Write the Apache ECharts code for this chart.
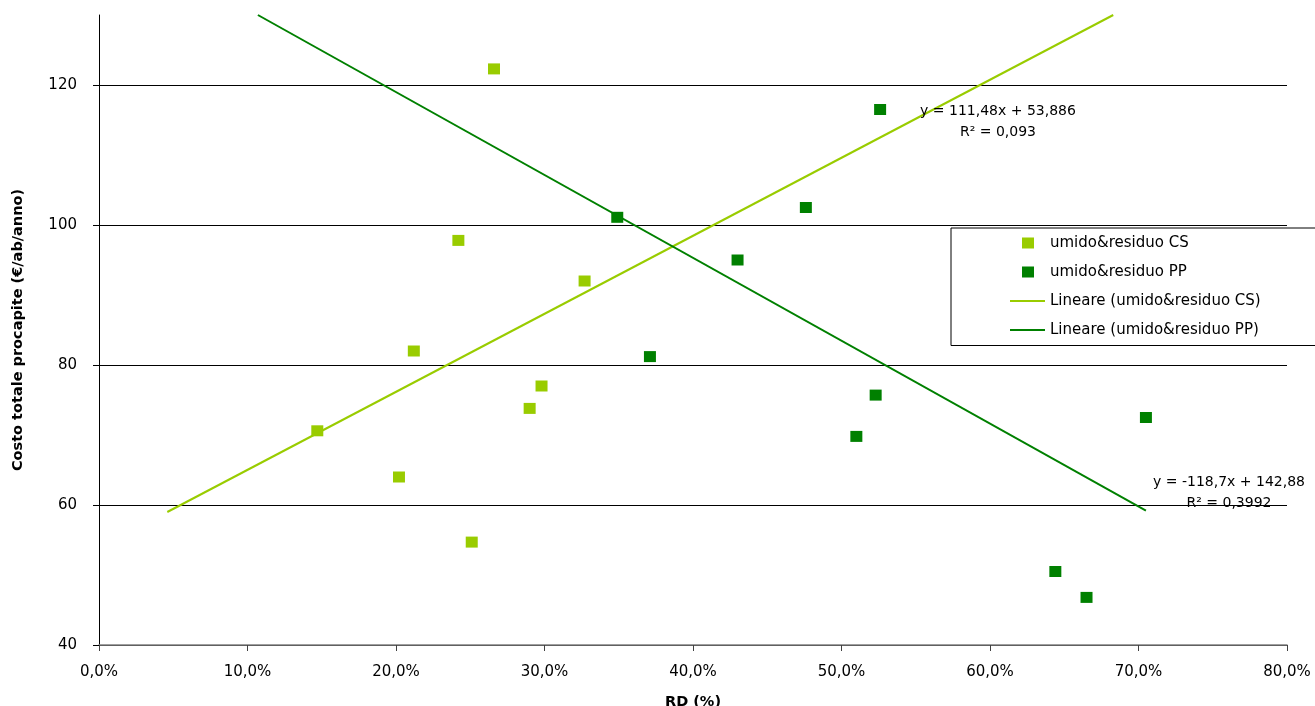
<!DOCTYPE html>
<html>
<head>
<meta charset="utf-8">
<script src="https://cdn.jsdelivr.net/npm/echarts@6/dist/echarts.min.js"></script>
<style>
  html, body { margin: 0; padding: 0; background: #fff; }
  #chart { width: 1315px; height: 706px; }
</style>
</head>
<body>
<div id="chart"></div>
<script>
// RD (%) vs total per-capita cost, two collection systems
const csPoints = [
  [14.7, 70.6], [20.2, 64.0], [21.2, 82.0], [24.2, 97.8], [25.1, 54.7],
  [26.6, 122.3], [29.0, 73.8], [29.8, 77.0], [32.7, 92.0]
];
const ppPoints = [
  [34.9, 101.1], [37.1, 81.2], [43.0, 95.0], [47.6, 102.5], [51.0, 69.8],
  [52.3, 75.7], [52.6, 116.5], [64.4, 50.5], [66.5, 46.8], [70.5, 72.5]
];
// Linear trend lines (end points)
const csTrend = [[4.6, 59.0], [68.3, 130.0]];
const ppTrend = [[10.7, 130.0], [70.5, 59.2]];

const seriesNames = [
  'umido&residuo CS',
  'umido&residuo PP',
  'Lineare (umido&residuo CS)',
  'Lineare (umido&residuo PP)'
];
const csEquation = ['y = 111,48x + 53,886', 'R² = 0,093'];
const ppEquation = ['y = -118,7x + 142,88', 'R² = 0,3992'];
const yTicks = [40, 60, 80, 100, 120];

const LIGHT = '#99CC00';
const DARK = '#008000';
const FONT = 'DejaVu Sans';

// legend icons, drawn inside a 35x11 box (tiny corner dots fix the box size)
const squareIcon = 'path://M0,0h0.01v0.01h-0.01z M12,0h12v11h-12z M34.99,10.99h0.01v0.01h-0.01z';
const lineIcon = 'path://M0,0h0.01v0.01h-0.01z M0,4.5h35v2h-35z M34.99,10.99h0.01v0.01h-0.01z';

const chart = echarts.init(document.getElementById('chart'));

chart.setOption({
  backgroundColor: '#fff',
  animation: false,
  textStyle: { fontFamily: FONT },
  grid: {
    left: 99, right: 28, top: 15, bottom: 61,
    containLabel: false, outerBoundsMode: 'none'
  },
  xAxis: {
    type: 'value',
    min: 0, max: 80, interval: 10,
    name: 'RD (%)',
    nameLocation: 'middle',
    nameGap: 50,
    nameTextStyle: { fontFamily: FONT, fontSize: 14.5, fontWeight: 'bold', color: '#000' },
    axisLine: { show: true, lineStyle: { color: '#808080', width: 1.5 } },
    axisTick: { show: true, inside: false, length: 6, lineStyle: { color: '#404040' } },
    axisLabel: {
      margin: 20,
      fontFamily: FONT, fontSize: 15, color: '#000',
      formatter: v => v.toFixed(1).replace('.', ',') + '%'
    },
    splitLine: { show: false }
  },
  yAxis: {
    type: 'value',
    min: 40, max: 130, interval: 20,
    name: 'Costo totale procapite (€/ab/anno)',
    nameLocation: 'middle',
    nameGap: 73,
    nameTextStyle: { fontFamily: FONT, fontSize: 14.5, fontWeight: 'bold', color: '#000' },
    axisLine: { show: true, lineStyle: { color: '#000', width: 1 } },
    axisTick: { show: true, inside: false, length: 6, lineStyle: { color: '#000' }, customValues: yTicks },
    axisLabel: {
      margin: 22,
      fontFamily: FONT, fontSize: 15, color: '#000',
      customValues: yTicks
    },
    splitLine: { show: true, lineStyle: { color: '#000', width: 1 } }
  },
  legend: {
    orient: 'vertical',
    left: 951, top: 228,
    itemWidth: 35, itemHeight: 11, itemGap: 14,
    padding: [7.5, 120, 8, 59],
    borderColor: '#000', borderWidth: 1,
    backgroundColor: '#fff',
    textStyle: { fontFamily: FONT, fontSize: 15, color: '#000' },
    data: [
      { name: seriesNames[0], icon: squareIcon },
      { name: seriesNames[1], icon: squareIcon },
      { name: seriesNames[2], icon: lineIcon },
      { name: seriesNames[3], icon: lineIcon }
    ]
  },
  series: [
    {
      name: seriesNames[0], type: 'scatter',
      symbol: 'rect', symbolSize: [12, 11],
      itemStyle: { color: LIGHT, opacity: 1 },
      data: csPoints, z: 3
    },
    {
      name: seriesNames[1], type: 'scatter',
      symbol: 'rect', symbolSize: [12, 11],
      itemStyle: { color: DARK, opacity: 1 },
      data: ppPoints, z: 3
    },
    {
      name: seriesNames[2], type: 'line',
      symbol: 'none', silent: true,
      lineStyle: { color: LIGHT, width: 2 },
      itemStyle: { color: LIGHT },
      data: csTrend, z: 2
    },
    {
      name: seriesNames[3], type: 'line',
      symbol: 'none', silent: true,
      lineStyle: { color: DARK, width: 2 },
      itemStyle: { color: DARK },
      data: ppTrend, z: 2
    }
  ],
  graphic: [
    {
      type: 'text', x: 998, y: 100.5, z: 10,
      style: {
        text: csEquation.join('\n'), align: 'center', verticalAlign: 'top',
        lineHeight: 21, font: '14px DejaVu Sans', fill: '#000'
      }
    },
    {
      type: 'text', x: 1229, y: 471.5, z: 10,
      style: {
        text: ppEquation.join('\n'), align: 'center', verticalAlign: 'top',
        lineHeight: 21, font: '14px DejaVu Sans', fill: '#000'
      }
    }
  ]
});
</script>
</body>
</html>
